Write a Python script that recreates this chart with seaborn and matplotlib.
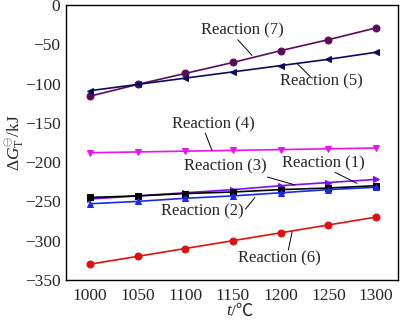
import matplotlib
matplotlib.use("Agg")
import matplotlib.pyplot as plt
import seaborn as sns
import pandas as pd

sns.set_style("white")
plt.rcParams['font.family'] = ['Liberation Serif', 'Noto Sans CJK SC', 'DejaVu Sans']
plt.rcParams['mathtext.fontset'] = 'custom'
plt.rcParams['mathtext.rm'] = 'Liberation Serif'
plt.rcParams['mathtext.it'] = 'Liberation Serif:italic'

temps = [1000, 1050, 1100, 1150, 1200, 1250, 1300]
r1 = [-245, -243, -240, -238, -235, -233, -230]
r2 = [-253, -250, -246, -243, -239, -235, -232]
r3 = [-247, -243, -239, -235, -230, -226, -222]
r4 = [-188, -187, -186, -185, -184, -183, -182]
r5 = [-109, -101, -93, -85, -77, -69, -60]
r6 = [-330, -320, -310, -300, -290, -280, -270]
r7 = [-116, -101, -87, -73, -58, -44, -29]

series = [
    ("Reaction (7)", r7, "#5a0c5a", "o"),
    ("Reaction (5)", r5, "#0c0c5e", "<"),
    ("Reaction (4)", r4, "#ee10ee", "v"),
    ("Reaction (3)", r3, "#7a10f0", ">"),
    ("Reaction (1)", r1, "#000000", "s"),
    ("Reaction (2)", r2, "#1a2ae6", "^"),
    ("Reaction (6)", r6, "#e01010", "o"),
]

fig = plt.figure(figsize=(4.0, 3.21), dpi=100)
ax = fig.add_axes([0.165, 0.128, 0.83, 0.856])

for name, vals, col, mk in series:
    df = pd.DataFrame({"t": temps, "G": vals})
    sns.lineplot(data=df, x="t", y="G", ax=ax, color=col, marker=mk,
                 markersize=5, markeredgecolor=col, linewidth=1.2)

# annotations: (text, text pos, line start, line end)
annos = [
    ("Reaction (7)", (1160, -32), (1155, -44), (1170, -64)),
    ("Reaction (5)", (1243, -97), (1217, -74), (1231, -91)),
    ("Reaction (4)", (1130, -152), (1121, -163), (1128, -185)),
    ("Reaction (3)", (1142, -205), (1186, -219), (1215, -229)),
    ("Reaction (1)", (1245, -201), (1257, -213), (1280, -227)),
    ("Reaction (2)", (1118, -263), (1163, -260), (1173, -245)),
    ("Reaction (6)", (1199, -323), (1212, -289), (1208, -312)),
]
for txt, tp, p0, p1 in annos:
    ax.text(tp[0], tp[1], txt, ha="center", va="center", fontsize=12)
    ax.plot([p0[0], p1[0]], [p0[1], p1[1]], color="black", lw=0.7)

ax.set_xlim(975, 1323)
ax.set_ylim(-350, 0)
ax.set_xticks(temps)
ax.set_yticks([0, -50, -100, -150, -200, -250, -300, -350])
ax.tick_params(axis="y", direction="in", length=4, labelsize=12.5, pad=4)
ax.tick_params(axis="x", direction="in", length=0, labelsize=12.5, pad=6)
for s in ax.spines.values():
    s.set_color("black")
    s.set_linewidth(1.0)
ax.set_xlabel("")
fig.text(0.578, 0.03, "t", style="italic", ha="right", va="center", fontsize=12.5,
         family=['Liberation Serif', 'DejaVu Serif'])
fig.text(0.578, 0.03, "/℃", ha="left", va="center", fontsize=12.5,
         family=['Liberation Serif', 'Noto Sans CJK SC', 'DejaVu Sans'])
ax.set_ylabel(r"$\Delta G_{\mathrm{T}}^{\ominus}$/kJ", fontsize=12.5, labelpad=-2)

fig.savefig("out.png", dpi=100)
